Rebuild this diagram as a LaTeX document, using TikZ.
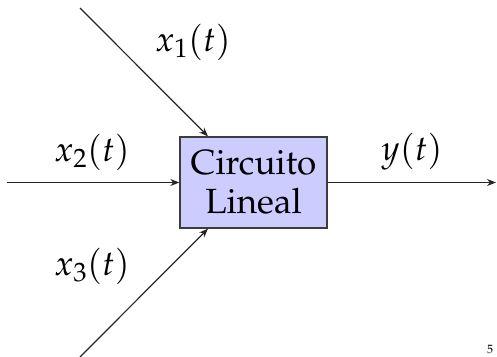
\documentclass[tikz,border=0pt]{standalone}
\usepackage[T1]{fontenc}
\usepackage{mathpazo}
\usetikzlibrary{arrows.meta}
\definecolor{boxfill}{RGB}{204,204,255}
\definecolor{boxdraw}{RGB}{60,60,60}
\begin{document}
\begin{tikzpicture}[x=1pt,y=-1pt,
  sig/.style={draw=black!85,line width=1.2pt,-{Stealth[length=9pt,width=7pt]}},
  blockbox/.style={draw=boxdraw,fill=boxfill,line width=1.3pt,minimum width=147pt,minimum height=91pt,align=center,inner sep=0pt,font=\fontsize{35}{39}\selectfont},
  lab/.style={font=\fontsize{35}{39}\selectfont,inner sep=0pt}]
\useasboundingbox (0,0) rectangle (497,356);
\node[blockbox] (b) at (253.5,182.5) {Circuito\\Lineal};
\coordinate (s1) at (80,8);
\coordinate (s3) at (80,357);
\coordinate (s2) at (7,182.5);
\coordinate (e) at (496,182.5);
\draw[sig] (s1) -- (b.north -| 208,0);
\draw[sig] (s3) -- (b.south -| 208,0);
\draw[sig] (s2) -- (b.west);
\draw[sig] (b.east) -- (e);
\node[lab] (l1) at (193,42) {$x_1(t)$};
\node[lab] (l2) at (92,152) {$x_2(t)$};
\node[lab] (l3) at (92,266) {$x_3(t)$};
\node[lab] (ly) at (412,152) {$y(t)$};
\node[inner sep=0pt,font=\fontsize{12}{14}\selectfont] (pg) at (490,349) {5};
\end{tikzpicture}
\end{document}
